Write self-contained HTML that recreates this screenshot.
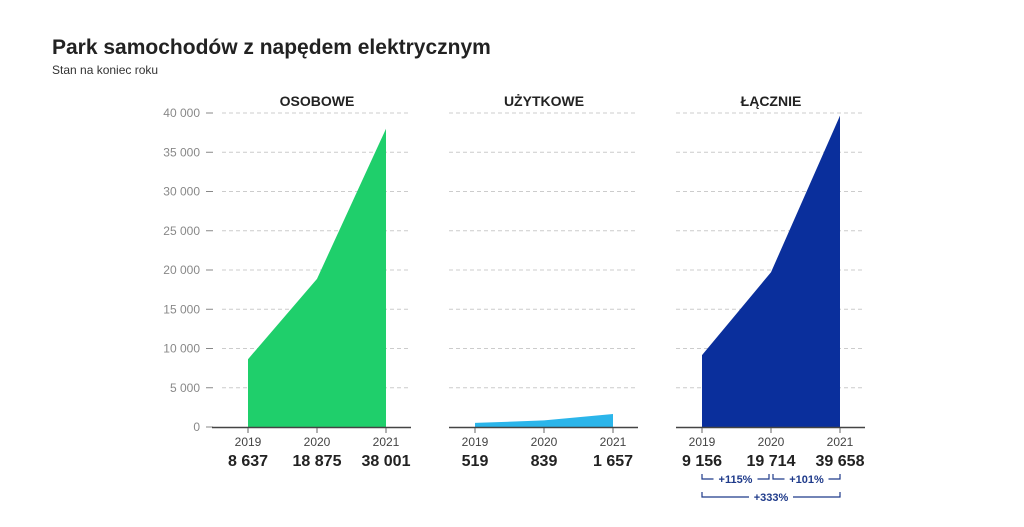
<!DOCTYPE html>
<html><head><meta charset="utf-8"><style>
body{margin:0;background:#fff;font-family:"Liberation Sans",sans-serif}
svg{display:block}
</style></head><body>
<svg id="c" width="1024" height="527">
<text x="52" y="54" font-size="21" font-weight="bold" fill="#222">Park samochodów z napędem elektrycznym</text>
<text x="52" y="74" font-size="12" fill="#333">Stan na koniec roku</text>
</svg>
<script>
const years=["2019","2020","2021"];
const panelTitles=["OSOBOWE","UŻYTKOWE","ŁĄCZNIE"];
const osobowe=[8637,18875,38001];
const uzytkowe=[519,839,1657];
const lacznie=[9156,19714,39658];
const valueLabels=[["8 637","18 875","38 001"],["519","839","1 657"],["9 156","19 714","39 658"]];
const yTicks=[0,5000,10000,15000,20000,25000,30000,35000,40000];
const yTickLabels=["0","5 000","10 000","15 000","20 000","25 000","30 000","35 000","40 000"];
const growthLabels=["+115%","+101%","+333%"];
const series=[osobowe,uzytkowe,lacznie];
const colors=["#1fcf6b","#2bb5ea","#0a2f9c"];
const panelX=[222,449,676];
const svg=document.getElementById('c');
const NS="http://www.w3.org/2000/svg";
function y(v){return 427-v*314/40000;}
function x(p,i){return panelX[p]+26+i*69;}
function mk(t,a,txt){const e=document.createElementNS(NS,t);for(const k in a)e.setAttribute(k,a[k]);if(txt!=null)e.textContent=txt;svg.appendChild(e);return e;}
yTicks.forEach((t,i)=>{
 const l=mk('text',{x:200,y:y(t)+4,'font-size':12,fill:'#888','text-anchor':'end'},yTickLabels[i]);
 
 
 const m=mk('line',{x1:206,x2:213,y1:y(t),y2:y(t),stroke:'#888'});
 
 
});
for(let p=0;p<3;p++){
 const ti=mk('text',{x:panelX[p]+95,y:106,'font-size':14,'font-weight':'bold',fill:'#222','text-anchor':'middle'},panelTitles[p]);
 
 
 yTicks.forEach(t=>{if(t===0)return;
  const g=mk('line',{x1:panelX[p],x2:panelX[p]+189,y1:y(t),y2:y(t),stroke:'#ccc','stroke-dasharray':'4 3'});
  
  
 });
 const d=series[p];
 let pts=`${x(p,0)},${y(0)} `+d.map((v,i)=>`${x(p,i)},${y(v)}`).join(' ')+` ${x(p,2)},${y(0)}`;
 const a=mk('polygon',{points:pts,fill:colors[p]});
 
 
 const b=mk('line',{x1:panelX[p]-(p===0?10:0),x2:panelX[p]+189,y1:427.5,y2:427.5,stroke:'#444','stroke-width':1.5});
 
 
 years.forEach((yr,i)=>{
  const tk=mk('line',{x1:x(p,i),x2:x(p,i),y1:428,y2:433,stroke:'#666'});
  
  
  const yl=mk('text',{x:x(p,i),y:446,'font-size':12,fill:'#444','text-anchor':'middle'},yr);
  
  
  const vl=mk('text',{x:x(p,i),y:466,'font-size':16,'font-weight':'bold',fill:'#222','text-anchor':'middle'},valueLabels[p][i]);
  
  
 });
}
function bracket(x1,x2,yy,label){
 const mid=(x1+x2)/2,hw=label.length*3.6+4;
 const pa=mk('path',{d:`M${x1},${yy-5}V${yy}H${mid-hw}M${mid+hw},${yy}H${x2}V${yy-5}`,stroke:'#1e3a8a',fill:'none','stroke-width':1.2});
 
 
 const t=mk('text',{x:mid,y:yy+4,'font-size':11,'font-weight':'bold',fill:'#1e3a8a','text-anchor':'middle'},label);
 
 
}
bracket(x(2,0),x(2,1)-2,479,growthLabels[0]);
bracket(x(2,1)+2,x(2,2),479,growthLabels[1]);
bracket(x(2,0),x(2,2),497,growthLabels[2]);
</script>
</body></html>
